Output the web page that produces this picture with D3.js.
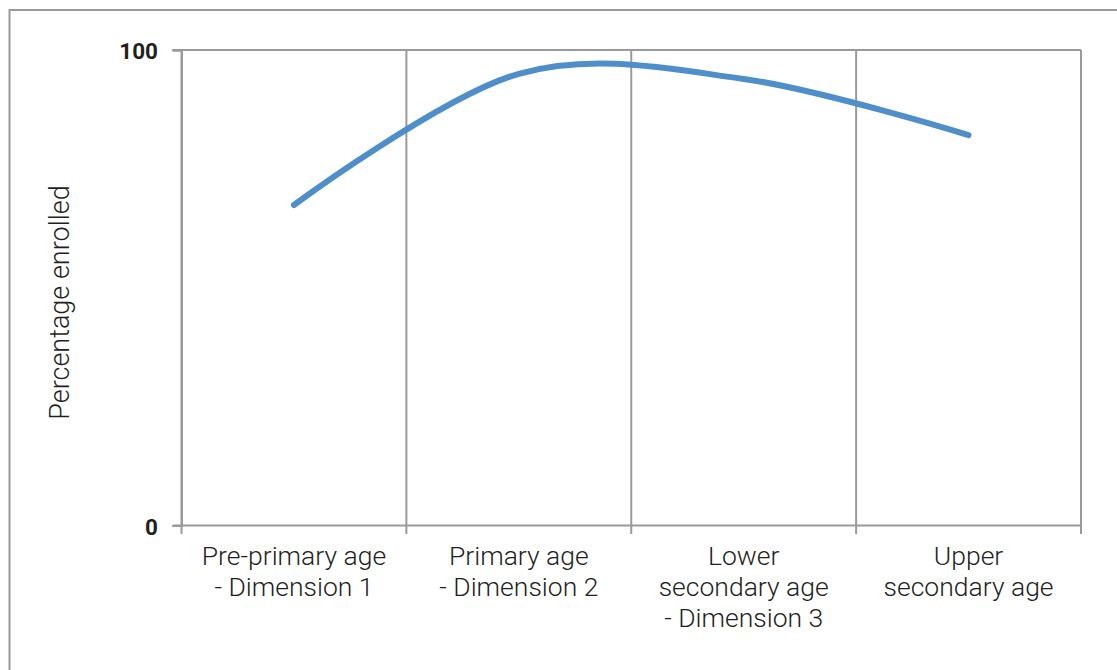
<!DOCTYPE html>
<html>
<head>
<meta charset="utf-8">
<script src="https://cdn.jsdelivr.net/npm/d3@7"></script>
<style>
  html, body { margin: 0; padding: 0; background: #fff; }
  svg { display: block; }
</style>
</head>
<body>
<svg id="chart" width="1117" height="670"></svg>
<script>
// ---- data ----
const categories = ["Pre-primary age - Dimension 1", "Primary age - Dimension 2", "Lower secondary age - Dimension 3", "Upper secondary age"];
const categoryLabelLines = [
  ["Pre-primary age", "- Dimension 1"],
  ["Primary age", "- Dimension 2"],
  ["Lower", "secondary age", "- Dimension 3"],
  ["Upper", "secondary age"]
];
const enrolled = [67.4, 95.0, 93.9, 82.1];
const yTicks = [0, 100];
const yTitle = "Percentage enrolled";

(function () {
// ---- layout ----
const svg = d3.select("#chart");
const pLeft = 181.5, pRight = 1081, pTop = 50, pBottom = 525.5;
const gridColor = "#9a9a9a";
const textColor = "#231f20";
const font = "Roboto, 'Liberation Sans', Arial, sans-serif";

// outer frame
svg.append("path")
  .attr("d", `M9.5,670 L9.5,10 L1117,10`)
  .attr("fill", "none").attr("stroke", gridColor).attr("stroke-width", 2);

const x = d3.scaleBand().domain(categories).range([pLeft, pRight]).padding(0);
const y = d3.scaleLinear().domain([0, 100]).range([pBottom, pTop]);

// vertical gridlines at category boundaries
const boundaries = categories.map(c => x(c)).concat([x(categories[categories.length - 1]) + x.bandwidth()]);
svg.append("g").selectAll("line").data(boundaries).join("line")
  .attr("x1", d => d).attr("x2", d => d)
  .attr("y1", pTop).attr("y2", pBottom + 8.5)
  .attr("stroke", gridColor).attr("stroke-width", 2);

// top border of plot
svg.append("line")
  .attr("x1", pLeft - 9).attr("x2", pRight).attr("y1", y(100)).attr("y2", y(100))
  .attr("stroke", gridColor).attr("stroke-width", 2);

// y axis
const yAxis = d3.axisLeft(y).tickValues(yTicks).tickSize(9).tickPadding(14.5).tickFormat(d3.format("d"));
const gy = svg.append("g").attr("transform", `translate(${pLeft},0)`).call(yAxis);
gy.select(".domain").attr("stroke", gridColor).attr("stroke-width", 2);
gy.selectAll(".tick line").attr("stroke", gridColor).attr("stroke-width", 2);
gy.selectAll(".tick text")
  .attr("fill", textColor).attr("font-family", font).attr("font-weight", 700)
  .attr("font-size", 22.5).attr("dy", "0.38em");

// x axis baseline
svg.append("line")
  .attr("x1", pLeft - 9).attr("x2", pRight).attr("y1", pBottom).attr("y2", pBottom)
  .attr("stroke", gridColor).attr("stroke-width", 2);

// category labels
const labels = svg.append("g");
categories.forEach((c, i) => {
  const cx = x(c) + x.bandwidth() / 2;
  const t = labels.append("text")
    .attr("x", cx)
    .attr("y", 565)
    .attr("text-anchor", "middle")
    .attr("fill", textColor)
    .attr("font-family", font).attr("font-weight", 300)
    .attr("font-size", 26.5);
  categoryLabelLines[i].forEach((ln, j) => {
    t.append("tspan").attr("x", cx).attr("y", 565 + j * 31).text(ln);
  });
});

// y title
svg.append("text")
  .attr("transform", `translate(69,302.5) rotate(-90)`)
  .attr("text-anchor", "middle")
  .attr("fill", textColor)
  .attr("font-family", font).attr("font-weight", 300)
  .attr("font-size", 27)
  .text(yTitle);

// line
const line = d3.line()
  .x((d, i) => x(categories[i]) + x.bandwidth() / 2)
  .y(d => y(d))
  .curve(d3.curveCardinal.tension(0));
svg.append("path")
  .datum(enrolled)
  .attr("d", line)
  .attr("fill", "none")
  .attr("stroke", "#4f8fc9")
  .attr("stroke-width", 6)
  .attr("stroke-linecap", "round")
  .attr("stroke-linejoin", "round");
})();
</script>
</body>
</html>
